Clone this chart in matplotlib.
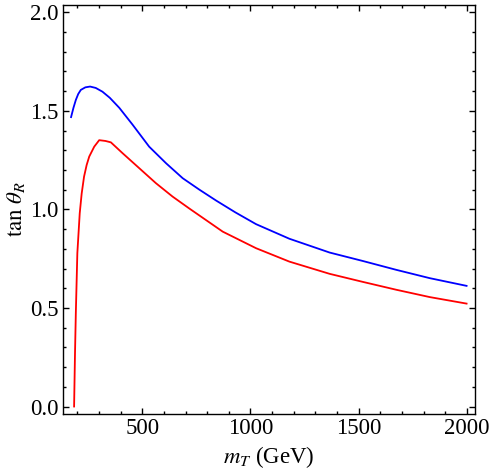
import numpy as np
import matplotlib
matplotlib.use('Agg')
import matplotlib.pyplot as plt
from matplotlib.ticker import MultipleLocator

## DATA
mt_blue = [171, 182, 193, 204, 216, 237, 259, 285, 316, 350, 394, 455, 532, 610,
           687, 764, 841, 930, 1026, 1180, 1366, 1520, 1675, 1829, 1999]
tan_blue = [1.468, 1.515, 1.555, 1.585, 1.606, 1.619, 1.623, 1.616, 1.597, 1.566,
            1.515, 1.430, 1.318, 1.234, 1.158, 1.100, 1.045, 0.985, 0.925, 0.851,
            0.781, 0.738, 0.693, 0.651, 0.612]

mt_red = [185, 189, 193, 200, 211, 220, 231, 243, 255, 278, 301, 330, 355, 409,
          486, 563, 640, 718, 872, 1026, 1180, 1366, 1520, 1675, 1829, 1999]
tan_red = [0.0, 0.26, 0.474, 0.778, 0.98, 1.08, 1.166, 1.225, 1.268, 1.318, 1.351,
           1.347, 1.340, 1.285, 1.209, 1.133, 1.065, 1.004, 0.887, 0.803, 0.735,
           0.673, 0.632, 0.592, 0.555, 0.522]

x_ticks = [500, 1000, 1500, 2000]
y_ticks = [0.0, 0.5, 1.0, 1.5, 2.0]

## STYLE
plt.rcParams['font.family'] = ['Liberation Serif', 'DejaVu Serif']
plt.rcParams['mathtext.fontset'] = 'stix'

fig = plt.figure(figsize=(4.91, 4.74), dpi=100)
ax = fig.add_axes([0.128, 0.127, 0.839, 0.863])

ax.plot(mt_blue, tan_blue, color='#0000ff', lw=1.3)
ax.plot(mt_red, tan_red, color='#ff0000', lw=1.3)

ax.set_xlim(133, 2037)
ax.set_ylim(-0.037, 2.038)
ax.set_xticks(x_ticks)
ax.set_yticks(y_ticks)
ax.set_yticklabels(['%.1f' % v for v in y_ticks])
ax.xaxis.set_minor_locator(MultipleLocator(100))
ax.yaxis.set_minor_locator(MultipleLocator(0.1))
ax.tick_params(which='both', direction='in', top=True, right=True,
               labelsize=16.5, width=1.0, color='black')
ax.tick_params(which='major', length=4.2, pad=3)
ax.tick_params(which='minor', length=2.4)
for s in ax.spines.values():
    s.set_linewidth(1.0)

ax.set_xlabel(r'$m_T$ (GeV)', fontsize=16.5, labelpad=4)
ax.set_ylabel(r'$\tan\,\theta_R$', fontsize=16.5, labelpad=2)

fig.savefig('out.png', dpi=100)
